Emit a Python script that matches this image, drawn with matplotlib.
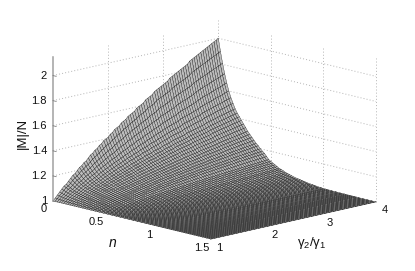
import numpy as np
import matplotlib
matplotlib.use('Agg')
import matplotlib.pyplot as plt
from mpl_toolkits.mplot3d import proj3d

plt.rcParams['font.family'] = ['Liberation Sans', 'DejaVu Sans']
plt.rcParams['mathtext.fontset'] = 'custom'
plt.rcParams['mathtext.rm'] = 'Liberation Sans'
plt.rcParams['mathtext.it'] = 'Liberation Sans:italic'
plt.rcParams['mathtext.default'] = 'regular'

# |M|/N read along the n = 0 edge, gamma from 1 to 4
edge_n0 = [1.00, 1.02, 1.04, 1.06, 1.08, 1.10, 1.11, 1.13, 1.15, 1.17, 1.18, 1.20, 1.22, 1.23, 1.25, 1.26,
           1.28, 1.30, 1.31, 1.33, 1.34, 1.36, 1.37, 1.39, 1.40, 1.41, 1.43, 1.44, 1.46, 1.47, 1.48, 1.50,
           1.51, 1.52, 1.54, 1.55, 1.56, 1.57, 1.59, 1.60, 1.61, 1.62, 1.64, 1.65, 1.66, 1.67, 1.69, 1.70,
           1.71, 1.72, 1.73, 1.74, 1.75, 1.77, 1.78, 1.79, 1.80, 1.81, 1.82, 1.83, 1.84, 1.85, 1.87, 1.88,
           1.89, 1.90, 1.91, 1.92, 1.93, 1.94, 1.95, 1.96, 1.97, 1.98, 1.99, 2.00]
# share of the excess above 1 left along the gamma = 4 edge, n from 0 to 1.5
edge_g4 = [1.00, 0.90, 0.81, 0.73, 0.66, 0.60, 0.55, 0.51, 0.47, 0.44, 0.415, 0.39, 0.365, 0.34, 0.315, 0.295,
           0.275, 0.255, 0.235, 0.22, 0.20, 0.185, 0.17, 0.15, 0.13, 0.12, 0.11, 0.10, 0.09, 0.08, 0.075,
           0.068, 0.06, 0.055, 0.05, 0.045, 0.04, 0.036, 0.033, 0.03, 0.027, 0.024, 0.021, 0.018, 0.016,
           0.014, 0.012, 0.01, 0.008, 0.007, 0.005, 0.005, 0.004, 0.004, 0.003, 0.003, 0.003, 0.002, 0.002,
           0.002, 0.002, 0.001, 0.001, 0.001, 0.001, 0.001, 0.001, 0.0, 0.0, 0.0, 0.0, 0.0, 0.0, 0.0, 0.0, 0.0]

n_ticks = [0, 0.5, 1, 1.5]
n_labels = ['0', '0.5', '1', '1.5']
g_ticks = [1, 2, 3, 4]
z_ticks = [1, 1.2, 1.4, 1.6, 1.8, 2]
z_labels = ['1', '1.2', '1.4', '1.6', '1.8', '2']
z_top = 2.144

gam = np.linspace(1, 4, len(edge_n0))
n = np.linspace(0, 1.5, len(edge_g4))
G, N = np.meshgrid(gam, n)
Z = 1 + np.outer(edge_g4, np.array(edge_n0) - 1)

W, H = 415, 271
fig = plt.figure(figsize=(W / 100, H / 100), dpi=100)
side = 415
ax = fig.add_axes([0, 0, side / W, side / H], projection='3d', computed_zorder=False)
ax.set_proj_type('ortho')
ax.view_init(elev=13.5, azim=-44)
ax.set_xlim(0, 1.5)
ax.set_ylim(1, 4)
ax.set_zlim(1, z_top)
ax.set_axis_off()
ax.patch.set_alpha(0)


def px(a, b, c):
    x, y, _ = proj3d.proj_transform(a, b, c, ax.get_proj())
    return ax.transData.transform((x, y))


# fit the box to the corners seen in the picture
ax.set_box_aspect((226, 229, 147), zoom=1.0)
fig.canvas.draw()
left, right = px(0, 1, 1), px(1.5, 4, 1)
zoom = (376 - 53) / (right[0] - left[0])
ax.set_box_aspect((226, 229, 147), zoom=zoom)
fig.canvas.draw()
left = px(0, 1, 1)
dx, dy = 53 - left[0], (H - 201) - left[1]
ax.set_position([dx / W, dy / H, side / W, side / H])
fig.canvas.draw()

grid = dict(color='#b4b4b4', lw=0.7, ls=(0, (1, 2.2)), zorder=1)
for z in z_ticks[1:]:
    ax.plot([0, 0], [1, 4], [z, z], **grid)
    ax.plot([0, 1.5], [4, 4], [z, z], **grid)
for g in g_ticks[1:]:
    ax.plot([0, 0], [g, g], [1, z_top], **grid)
for v in n_ticks[1:]:
    ax.plot([v, v], [4, 4], [1, z_top], **grid)

# grey faces stand in for the tone the fine mesh takes on at this size
ax.plot_surface(N, G, Z, rcount=Z.shape[0], ccount=Z.shape[1], color='#bcbcbc', edgecolor='black',
                linewidth=0.22, shade=False, antialiased=True, zorder=2)

# axis lines
ax.plot([0, 0], [1, 1], [1, z_top], color='#a0a0a0', lw=1.1, zorder=3)
ax.plot([1.5, 1.5], [1, 4], [1, 1], color='#707070', lw=0.6, zorder=1.5)

for z, lab in zip(z_ticks, z_labels):
    p = px(0, 1, z)
    fig.text((p[0] - 6) / W, p[1] / H, lab, ha='right', va='center', fontsize=8, color='#111111')
    ax.plot([0, 0.03], [1, 1], [z, z], color='#808080', lw=0.6, zorder=3)
for v, lab in zip(n_ticks, n_labels):
    p = px(v, 1, 1)
    fig.text((p[0] - 9) / W, (p[1] - 8.5) / H, lab, ha='center', va='center', fontsize=8, color='#111111')
for g in g_ticks:
    p = px(1.5, g, 1)
    fig.text((p[0] + 9) / W, (p[1] - 8.5) / H, str(g), ha='center', va='center', fontsize=8, color='#111111')

fig.text(23 / W, (H - 133) / H, '|M|/N', rotation=90, ha='center', va='center', fontsize=9.5, color='#111111')
fig.text(113 / W, (H - 243) / H, 'n', style='italic', ha='center', va='center', fontsize=10, color='#111111')
fig.text(312 / W, (H - 243) / H, r'$\gamma_2/\gamma_1$', ha='center', va='center', fontsize=9.5, color='#111111')

fig.savefig('out.png', dpi=100)
